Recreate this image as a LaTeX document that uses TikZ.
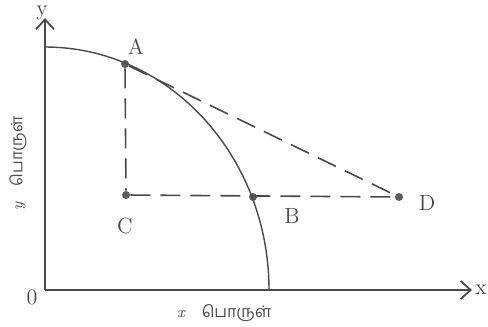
\documentclass[tikz,border=0pt]{standalone}
\usepackage{fontspec}
\usetikzlibrary{arrows.meta}
\newfontfamily\tamilfont[Script=Tamil]{Hind Madurai}
\definecolor{ink}{HTML}{4A4A4A}
\definecolor{dotGray}{HTML}{5C5C5C}

\begin{document}
\begin{tikzpicture}[x=0.5pt,y=-0.5pt]
    \tikzset{axis/.style={draw=ink,line width=0.9pt,-{Straight Barb[length=5pt,width=9pt]}}, curve/.style={draw=ink,line width=0.7pt}, guide/.style={draw=ink,line width=0.8pt,dash pattern=on 10pt off 5pt}, dot/.style={circle,fill=dotGray,inner sep=0pt,minimum size=4pt}, lbl/.style={text=ink,inner sep=1pt,font=\fontsize{11}{13}\selectfont}, unit/.style={text=ink,font=\fontsize{8}{10}\selectfont}}
    \useasboundingbox (0,0) rectangle (488,327);
    \coordinate (O) at (45,290);
    \coordinate (ytip) at (45,18);
    \coordinate (xtip) at (472,290);
    \coordinate (top) at (45,47);
    \node[dot] (A) at (125,64) {};
    \node[dot] (C) at (126,195) {};
    \node[dot] (B) at (253,197) {};
    \node[dot] (D) at (399,197) {};
    \draw[axis] (O) -- (ytip);
    \draw[axis] (O) -- (xtip);
    \draw[curve] (top) arc[start angle=90,end angle=0,x radius=112pt,y radius=121.5pt];
    \draw[guide] (A) -- (C);
    \draw[guide] (C) -- (D);
    \draw[guide] (A) -- (D);
    \node[lbl] (labA) at (136,47) {A};
    \node[lbl] (labC) at (125,226) {C};
    \node[lbl] (labB) at (292,216) {B};
    \node[lbl] (labD) at (427,203) {D};
    \node[lbl] (origin) at (32,297) {0};
    \node[lbl,anchor=north] (labY) at (42,4) {y};
    \node[lbl] (labX) at (481,290) {x};
    \node[unit,anchor=west] (unitX) at (170,313) {\textit{x}\quad{\tamilfont பொருள்}};
    \node[unit,rotate=90,anchor=west] (unitY) at (18,218) {\textit{y}\quad{\tamilfont பொருள்}};
\end{tikzpicture}
\end{document}
